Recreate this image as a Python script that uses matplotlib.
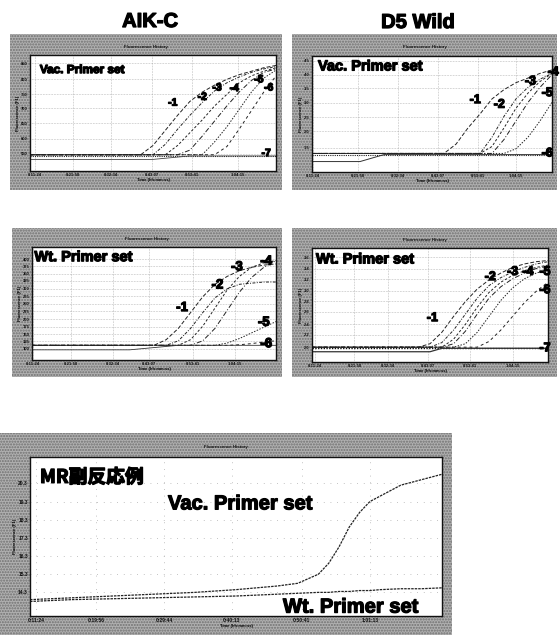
import matplotlib
matplotlib.use("Agg")
import matplotlib.pyplot as plt
import matplotlib.patheffects as pe
from matplotlib.patches import Rectangle

# ======= data (x and y in % of the plot box) =======
x_grid = [0, 10, 20, 30, 40, 45, 50, 55, 60, 65, 70, 75, 80, 85, 90, 95, 100]

# AIK-C, Vac. primer set
aik_vac_1 = [14, 14, 14, 14, 14, 14, 22, 35, 48, 60, 68, 74, 79, 83, 86, 89, 91]
aik_vac_2 = [14, 14, 14, 14, 14, 14, 14, 23, 36, 48, 59, 69, 76, 81, 85, 88, 90]
aik_vac_3 = [14, 14, 14, 14, 14, 14, 14, 14, 22, 33, 44, 56, 66, 76, 82, 86, 89]
aik_vac_4 = [14, 14, 14, 14, 14, 14, 14, 14, 14, 18, 30, 43, 56, 68, 78, 85, 88]
aik_vac_5 = [14, 14, 14, 14, 14, 14, 14, 14, 14, 14, 14, 25, 38, 53, 68, 80, 87]
aik_vac_6 = [14, 14, 14, 14, 14, 14, 14, 14, 14, 14, 14, 14, 21, 36, 52, 68, 82]
aik_vac_7 = [13, 13, 13, 13, 13, 13, 13, 13, 13, 13, 13, 13, 13, 13, 13, 13, 13]
aik_vac_low = [10, 10, 10, 10, 10, 10, 10, 11, 12, 13, 13, 13, 13, 13, 13, 13, 13]

# D5 Wild, Vac. primer set
d5_vac_1 = [16, 16, 16, 16, 16, 16, 16, 16, 24, 38, 50, 63, 71, 77, 81, 85, 88]
d5_vac_2 = [16, 16, 16, 16, 16, 16, 16, 16, 16, 16, 16, 30, 48, 63, 73, 80, 85]
d5_vac_3 = [16, 16, 16, 16, 16, 16, 16, 16, 16, 16, 16, 22, 38, 55, 68, 78, 85]
d5_vac_4 = [16, 16, 16, 16, 16, 16, 16, 16, 16, 16, 16, 16, 28, 44, 60, 73, 84]
d5_vac_5 = [16, 16, 16, 16, 16, 16, 16, 16, 16, 16, 16, 16, 16, 20, 30, 44, 60]
d5_vac_6 = [15, 15, 15, 15, 15, 15, 15, 15, 15, 15, 15, 15, 15, 15, 15, 15, 15]
d5_vac_low = [9, 9, 9, 15, 15, 15, 15, 15, 15, 15, 15, 15, 15, 15, 15, 15, 15]

# AIK-C, Wt. primer set
aik_wt_1 = [13, 13, 13, 13, 13, 13, 13, 18, 28, 42, 56, 67, 74, 79, 82, 84, 85]
aik_wt_2 = [13, 13, 13, 13, 13, 13, 13, 13, 17, 28, 42, 55, 63, 67, 68, 69, 69]
aik_wt_3 = [13, 13, 13, 13, 13, 13, 13, 13, 13, 18, 30, 46, 62, 74, 82, 86, 88]
aik_wt_4 = [13, 13, 13, 13, 13, 13, 13, 13, 13, 13, 17, 28, 44, 60, 73, 82, 88]
aik_wt_5 = [13, 13, 13, 13, 13, 13, 13, 13, 13, 13, 13, 13, 15, 19, 24, 29, 34]
aik_wt_6 = [13, 13, 13, 13, 13, 13, 13, 13, 13, 13, 13, 13, 13, 13.5, 14.5, 16, 17]
aik_wt_low = [9, 9, 9, 9, 9, 10, 11, 12, 13, 13, 13, 13, 13, 13, 13, 13, 13]

# D5 Wild, Wt. primer set
d5_wt_1 = [13, 13, 13, 13, 13, 13, 16, 26, 40, 53, 64, 72, 78, 83, 86, 88, 89]
d5_wt_2 = [13, 13, 13, 13, 13, 13, 13, 17, 28, 42, 56, 67, 74, 79, 83, 86, 88]
d5_wt_3 = [13, 13, 13, 13, 13, 13, 13, 13, 20, 33, 48, 61, 70, 76, 80, 83, 85]
d5_wt_4 = [13, 13, 13, 13, 13, 13, 13, 13, 16, 27, 42, 56, 66, 73, 78, 82, 84]
d5_wt_5 = [13, 13, 13, 13, 13, 13, 13, 13, 13, 16, 26, 40, 54, 65, 73, 78, 81]
d5_wt_6 = [13, 13, 13, 13, 13, 13, 13, 13, 13, 13, 13, 18, 28, 40, 52, 62, 70]
d5_wt_7 = [12, 12, 12, 12, 12, 12, 12, 12, 12, 12, 12, 12, 12, 12, 12, 12, 12]
d5_wt_low = [9, 9, 9, 9, 9, 9, 9, 12, 12, 12, 12, 12, 12, 12, 12, 12, 12]

# MR side-reaction case (fluorescence units)
mr_x = [0, 10, 20, 30, 40, 50, 55, 60, 65, 70, 72.5, 75, 77.5, 80, 82.5, 85, 90, 95, 100]
mr_vac = [13.9, 14.0, 14.1, 14.2, 14.3, 14.45, 14.55, 14.65, 14.8, 15.3, 15.9, 16.8,
          17.9, 18.7, 19.3, 19.6, 20.2, 20.5, 20.8]
mr_wt = [13.8, 13.9, 13.95, 14.0, 14.05, 14.1, 14.15, 14.2, 14.25, 14.3, 14.3, 14.35,
         14.35, 14.4, 14.4, 14.45, 14.5, 14.5, 14.55]

small_xticks = ["0:11:24", "0:21:58", "0:32:34", "0:43:07", "0:53:41", "1:04:15"]
aik_vac_yticks = ["550", "600", "650", "700", "750", "800", "850"]
d5_vac_yticks = ["1.5", "2.0", "2.5", "3.0", "3.5", "4.0", "4.5"]
aik_wt_yticks = ["100", "125", "150", "175", "200", "225", "250", "275", "300",
                 "325", "350", "375", "400"]
d5_wt_yticks = ["2.0", "2.2", "2.4", "2.6", "2.8", "3.0", "3.2", "3.4", "3.6"]
mr_xticks = ["0:11:24", "0:19:56", "0:29:44", "0:40:13", "0:50:41", "1:01:13"]
mr_yticks = [14.3, 15.3, 16.3, 17.3, 18.3, 19.3, 20.3]

# ======= helpers =======
W, H = 560, 635
plt.rcParams["font.family"] = ["Liberation Sans", "DejaVu Sans"]
fig = plt.figure(figsize=(W / 100, H / 100), dpi=100)
fig.patch.set_facecolor("white")

LS = [(0, (4, 2)), (0, (3, 1.5, 1, 1.5)), (0, (2.5, 2)), (0, (5, 2, 1, 2)),
      (0, (1.5, 1.5)), (0, (3, 3)), (0, (1, 1.2))]
HEAVY = [pe.withStroke(linewidth=0.9, foreground="black")]


def rect(l, t, r, b):
    return [l / W, 1 - b / H, (r - l) / W, (b - t) / H]


def panel(frame, inner, xticks, xlabels, yticks, ylabels, title, dense=True):
    # grey dithered frame
    fa = fig.add_axes(rect(*frame))
    fa.set_xticks([])
    fa.set_yticks([])
    for s in fa.spines.values():
        s.set_visible(False)
    fa.set_facecolor("#b0b0b0")
    fa.add_patch(Rectangle((0, 0), 1, 1, transform=fa.transAxes, facecolor="none",
                           edgecolor="#707070", hatch="......", linewidth=0))
    top_gap = (inner[1] - frame[1]) / (frame[3] - frame[1])
    fa.text(0.5, 1 - top_gap * 0.6, title, transform=fa.transAxes, ha="center",
            va="center", fontsize=3.2, fontweight="bold", color="#111111")

    ax = fig.add_axes(rect(*inner))
    ax.set_facecolor("white")
    for s in ax.spines.values():
        s.set_linewidth(1.0)
        s.set_color("#111111")
    ax.set_xticks(xticks)
    ax.set_xticklabels(xlabels)
    ax.set_yticks(yticks)
    ax.set_yticklabels(ylabels)
    ax.tick_params(labelsize=3, length=0, pad=1.5, labelcolor="#111111")
    for lab in ax.get_xticklabels() + ax.get_yticklabels():
        lab.set_fontweight("bold")
    if dense:
        ax.grid(True, color="#9a9a9a", linestyle=(0, (1, 1.5)), linewidth=0.45)
    else:
        ax.grid(True, color="#b0b0b0", linestyle=(0, (1, 7)), linewidth=0.6)
    ax.set_axisbelow(True)
    ax.set_xlabel("Time (hh:mm:ss)", fontsize=3, fontweight="bold", labelpad=0.5)
    ax.set_ylabel("Fluorescence (F1)", fontsize=3, fontweight="bold", labelpad=1)
    return ax


def curves(ax, series, lw=0.7):
    for i, ys in enumerate(series):
        ax.plot(x_grid, ys, color="#222222", linewidth=lw, linestyle=LS[i % len(LS)])


def big(ax, x, y, txt, size, **kw):
    ax.text(x, y, txt, fontsize=size, fontweight="bold", va="center",
            path_effects=HEAVY, **kw)


def tags(ax, items, size):
    for txt, x, y in items:
        ax.text(x, y, txt, fontsize=size, fontweight="bold", ha="center", va="center",
                clip_on=False, color="black", path_effects=HEAVY)


# ======= column headers =======
fig.text(150 / W, 1 - 21.5 / H, "AIK-C", fontsize=14.5, fontweight="bold",
         ha="center", va="center", path_effects=HEAVY)
fig.text(418 / W, 1 - 22.5 / H, "D5 Wild", fontsize=14.5, fontweight="bold",
         ha="center", va="center", path_effects=HEAVY)

# ======= AIK-C / Vac =======
ax1 = panel((10, 34, 282, 190), (30, 55, 276, 171), [2, 17.5, 33, 49.5, 66, 84.5],
            small_xticks, [15, 28, 41, 54, 66, 79, 93], aik_vac_yticks,
            "Fluorescence History")
curves(ax1, [aik_vac_1, aik_vac_2, aik_vac_3, aik_vac_4, aik_vac_5, aik_vac_6])
ax1.plot(x_grid, aik_vac_7, color="#222222", linewidth=0.8, linestyle=(0, (1, 1)))
ax1.plot(x_grid, aik_vac_low, color="#444444", linewidth=0.6)
ax1.set_xlim(0, 100)
ax1.set_ylim(0, 100)
big(ax1, 4, 87, "Vac. Primer set", 8.5)
tags(ax1, [("-1", 58, 59), ("-2", 70, 64), ("-3", 76, 72), ("-4", 83, 71.5),
           ("-5", 93, 79), ("-6", 97, 72), ("-7", 96, 15.5)], 7.5)

# ======= D5 Wild / Vac =======
ax2 = panel((292, 34, 557, 190), (312, 56, 552, 172), [0.5, 19, 36, 52.5, 69, 85],
            small_xticks, [21, 35, 47, 59.5, 72, 84, 96], d5_vac_yticks,
            "Fluorescence History")
curves(ax2, [d5_vac_1, d5_vac_2, d5_vac_3, d5_vac_4, d5_vac_5])
ax2.plot(x_grid, d5_vac_6, color="#222222", linewidth=0.8, linestyle=(0, (1, 1)))
ax2.plot(x_grid, d5_vac_low, color="#333333", linewidth=0.7)
ax2.set_xlim(0, 100)
ax2.set_ylim(0, 100)
big(ax2, 2.5, 91, "Vac. Primer set", 10.5)
tags(ax2, [("-1", 68, 62), ("-2", 78, 58), ("-3", 91, 78), ("-4", 100.5, 86),
           ("-5", 98, 68), ("-6", 98, 16)], 9)

# ======= AIK-C / Wt =======
ax3 = panel((12, 228, 282, 377), (32, 247, 276, 360), [0.5, 16, 33, 48, 66, 83],
            small_xticks, [10, 16.5, 23, 29.5, 36, 43, 50, 56.5, 63, 70, 76.5, 83, 89],
            aik_wt_yticks, "Fluorescence History")
curves(ax3, [aik_wt_1, aik_wt_2, aik_wt_3, aik_wt_4, aik_wt_5, aik_wt_6])
ax3.plot(x_grid, aik_wt_low, color="#333333", linewidth=0.6)
ax3.set_xlim(0, 100)
ax3.set_ylim(0, 100)
big(ax3, 1, 91, "Wt. Primer set", 10.5)
tags(ax3, [("-1", 61.5, 46), ("-2", 76, 66), ("-3", 84, 82), ("-4", 96, 87),
           ("-5", 95, 33), ("-6", 96, 14)], 9.5)

# ======= D5 Wild / Wt =======
ax4 = panel((292, 228, 557, 377), (312, 248, 548, 362), [1.3, 18, 32, 49, 67, 85],
            small_xticks, [13, 24, 33, 44, 53.5, 62.5, 72.5, 82, 92], d5_wt_yticks,
            "Fluorescence History")
curves(ax4, [d5_wt_1, d5_wt_2, d5_wt_3, d5_wt_4, d5_wt_5, d5_wt_6])
ax4.plot(x_grid, d5_wt_7, color="#111111", linewidth=1.0, linestyle=(0, (1, 1)))
ax4.plot(x_grid, d5_wt_low, color="#333333", linewidth=0.9)
ax4.set_xlim(0, 100)
ax4.set_ylim(0, 100)
big(ax4, 1.7, 90, "Wt. Primer set", 10.5)
tags(ax4, [("-1", 51, 38.5), ("-2", 75.5, 74.5), ("-3", 85, 79), ("-4", 91.5, 79),
           ("-5", 98.7, 79), ("-6", 98.7, 63), ("-7", 98.7, 12)], 9)

# ======= MR side reaction case =======
ax5 = panel((0, 433, 452, 640), (30, 457, 442, 616), [1.5, 16, 32.5, 49, 66, 82.5],
            mr_xticks, mr_yticks, [f"{v:.1f}" for v in mr_yticks],
            "Fluorescence History", dense=False)
ax5.tick_params(labelsize=3.6)
ax5.plot(mr_x, mr_vac, color="#222222", linewidth=0.9, linestyle=(0, (2, 0.8)))
ax5.plot(mr_x, mr_wt, color="#222222", linewidth=0.9, linestyle=(0, (2, 0.8)))
ax5.set_xlim(0, 100)
ax5.set_ylim(13.0, 21.75)
big(ax5, 2.4, 20.63, "MR副反応例", 13.5, family=["Noto Sans CJK JP", "DejaVu Sans"])
big(ax5, 33.5, 19.17, "Vac. Primer set", 14.5)
big(ax5, 61.4, 13.49, "Wt. Primer set", 14.5)

fig.savefig("out.png", dpi=100)
